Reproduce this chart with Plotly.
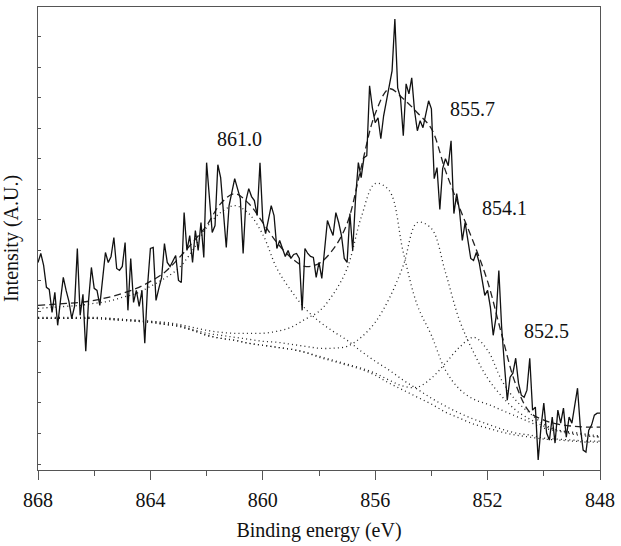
import plotly.graph_objects as go

# ---- raw spectrum (binding energy grid 868 -> 848 eV, step 0.1 eV) ----
e_start = 868.0
e_step = -0.1
raw_intensity = [
    208, 217, 205, 183, 181, 158, 178, 145, 170, 193,
    180, 169, 152, 164, 222, 155, 176, 119, 170, 203,
    182, 180, 165, 190, 218, 208, 214, 233, 202, 200,
    204, 228, 160, 212, 168, 180, 164, 180, 127, 185,
    222, 223, 170, 182, 193, 227, 208, 204, 210, 215,
    190, 188, 258, 220, 235, 208, 240, 220, 248, 213,
    308, 270, 238, 245, 306, 293, 255, 223, 265, 280,
    292, 282, 272, 217, 270, 282, 274, 270, 255, 308,
    250, 237, 252, 265, 255, 222, 230, 223, 214, 220,
    212, 216, 217, 212, 160, 222, 217, 214, 213, 193,
    208, 192, 218, 250, 242, 235, 258, 248, 235, 212,
    208, 257, 220, 272, 308, 293, 313, 315, 385, 363,
    348, 353, 332, 355, 370, 385, 400, 452, 383, 373,
    335, 387, 377, 393, 360, 340, 350, 343, 355, 370,
    362, 292, 303, 261, 302, 312, 305, 330, 257, 277,
    260, 230, 248, 230, 212, 210, 218, 208, 190, 175,
    180, 163, 135, 153, 200, 143, 105, 70, 93, 97,
    112, 87, 75, 73, 80, 112, 60, 63, 10, 43,
    67, 37, 30, 53, 27, 60, 47, 62, 33, 53,
    47, 65, 82, 43, 20, 18, 40, 45, 55, 57,
    57,
]
raw_energy = [round(e_start + e_step * i, 1) for i in range(len(raw_intensity))]

# ---- fitted curves, read at 0.5 eV steps ----
fit_energy = [868, 867.5, 867, 866.5, 866, 865.5, 865, 864.5, 864, 863.5,
              863, 862.5, 862, 861.5, 861, 860.5, 860, 859.5, 859, 858.5,
              858, 857.5, 857, 856.5, 856, 855.5, 855, 854.5, 854, 853.5,
              853, 852.5, 852, 851.5, 851, 850.5, 850, 849.5, 849, 848.5, 848]

envelope = [165, 166, 167, 168, 170, 173, 177, 182, 189, 198,
            212, 228, 245, 267, 277, 267, 248, 228, 213, 204,
            207, 221, 247, 303, 357, 382, 372, 358, 342, 300,
            263, 228, 189, 136, 86, 58, 50, 46, 44, 43, 43]

background = [152, 152, 152, 152, 152, 151, 150, 149, 148, 146,
              144, 140, 135, 132, 130, 127, 125, 123, 121, 118,
              113, 109, 105, 101, 95, 87, 80, 73, 66, 58,
              52, 46, 42, 38, 35, 33, 31, 30, 29, 28, 28]

peak_861_0 = [162, 163, 164, 165, 167, 169, 173, 177, 184, 192,
              202, 220, 243, 258, 265, 257, 236, 202, 180, 162,
              149, 139, 130, 119, 109, 100, 90, 81, 72, 64,
              57, 51, 46, 41, 37, 35, 32, 31, 30, 29, 29]

peak_855_7 = [153, 153, 153, 153, 153, 152, 151, 150, 149, 148,
              146, 143, 140, 138, 137, 137, 137, 139, 143, 151,
              159, 176, 202, 253, 287, 280, 218, 165, 135, 100,
              81, 71, 66, 60, 54, 48, 42, 39, 36, 34, 33]

peak_854_1 = [152, 152, 152, 152, 152, 152, 151, 150, 149, 147,
              145, 141, 137, 135, 133, 131, 129, 128, 126, 124,
              122, 122, 124, 133, 148, 172, 205, 248, 242, 198,
              150, 118, 92, 74, 60, 51, 44, 40, 38, 36, 34]

peak_852_5 = [152, 152, 152, 152, 152, 151, 150, 149, 148, 146,
              144, 140, 135, 132, 130, 127, 125, 123, 121, 118,
              114, 110, 106, 102, 97, 90, 84, 83, 92, 107,
              123, 133, 120, 90, 70, 57, 46, 40, 37, 35, 33]

peak_labels = ["861.0", "855.7", "854.1", "852.5"]
label_x = [860.83, 852.52, 851.39, 849.91]
label_y = [332, 362, 263, 139]

x_ticks = [868, 864, 860, 856, 852, 848]
x_minor = [866, 862, 858, 854, 850]

SERIF = "Liberation Serif"
INK = "#111111"
FRAME = "#555555"

fig = go.Figure()

dotted = dict(color="#222222", width=1.3, dash="1px,3.2px", shape="spline")
for comp in [background, peak_861_0, peak_855_7, peak_854_1, peak_852_5]:
    fig.add_trace(go.Scatter(x=fit_energy, y=comp, mode="lines",
                             line=dotted, hoverinfo="skip", showlegend=False))

fig.add_trace(go.Scatter(x=fit_energy, y=envelope, mode="lines",
                         line=dict(color="#222222", width=1.3, dash="7px,4px", shape="spline"),
                         showlegend=False))

fig.add_trace(go.Scatter(x=raw_energy, y=raw_intensity, mode="lines",
                         line=dict(color=INK, width=1.3), showlegend=False))

for t, xx, yy in zip(peak_labels, label_x, label_y):
    fig.add_annotation(x=xx, y=yy, text=t, showarrow=False,
                       font=dict(family=SERIF, size=20, color=INK),
                       xanchor="center", yanchor="middle")

fig.update_layout(
    width=621, height=546,
    margin=dict(l=38, r=17, t=6, b=76),
    paper_bgcolor="white", plot_bgcolor="white",
    font=dict(family=SERIF, size=20, color=INK),
    showlegend=False,
)

fig.update_xaxes(
    range=[868, 848], tickvals=x_ticks, ticktext=[str(v) for v in x_ticks],
    ticks="outside", ticklen=9, tickwidth=1, tickcolor=FRAME,
    minor=dict(tickvals=x_minor, ticks="outside", ticklen=5, tickwidth=1, tickcolor=FRAME),
    showline=True, linecolor=FRAME, linewidth=1.2, mirror=True,
    showgrid=False, zeroline=False,
    ticklabelstandoff=3,
    tickfont=dict(family=SERIF, size=20, color=INK),
    title=dict(text="Binding energy (eV)", standoff=12,
               font=dict(family=SERIF, size=20, color=INK)),
)

fig.update_yaxes(
    range=[0, 464], tick0=6, dtick=30.6,
    ticks="inside", ticklen=3, tickwidth=1, tickcolor=FRAME,
    showticklabels=False,
    showline=True, linecolor=FRAME, linewidth=1.2, mirror=True,
    showgrid=False, zeroline=False, automargin=False,
    title=dict(text="Intensity (A.U.)", standoff=12,
               font=dict(family=SERIF, size=20, color=INK)),
)

fig.write_html("out.html")
